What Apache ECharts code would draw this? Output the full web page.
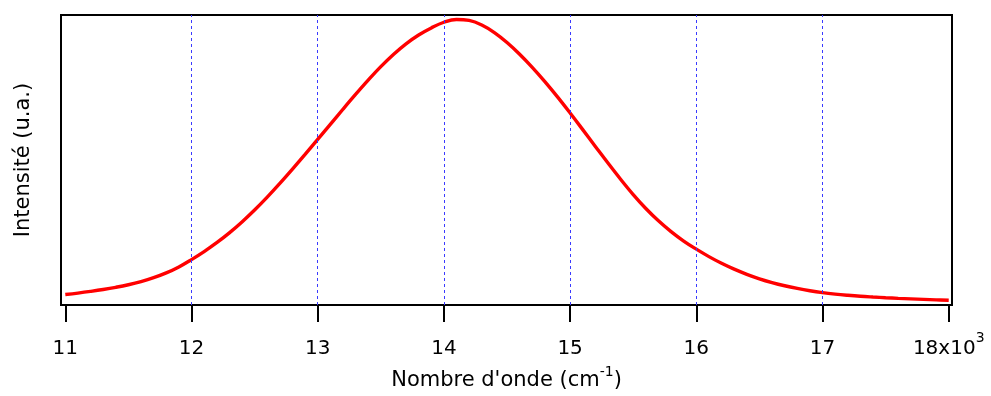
<!DOCTYPE html>
<html>
<head>
<meta charset="utf-8">
<title>Spectre d'émission</title>
<script src="https://cdn.jsdelivr.net/npm/echarts@6/dist/echarts.min.js"></script>
<style>
  html, body { margin: 0; padding: 0; background: #fff; }
  #chart { width: 991px; height: 396px; }
</style>
</head>
<body>
<div id="chart"></div>
<script>
// Wavenumber samples (cm-1) and measured band intensity (arbitrary units, 0-100 scale)
var wavenumbers = [
  11000, 11100, 11200, 11300, 11400, 11500, 11600, 11700, 11800, 11900,
  12000, 12100, 12200, 12300, 12400, 12500, 12600, 12700, 12800, 12900,
  13000, 13100, 13200, 13300, 13400, 13500, 13600, 13700, 13800, 13900,
  14000, 14100, 14200, 14300, 14400, 14500, 14600, 14700, 14800, 14900,
  15000, 15100, 15200, 15300, 15400, 15500, 15600, 15700, 15800, 15900,
  16000, 16100, 16200, 16300, 16400, 16500, 16600, 16700, 16800, 16900,
  17000, 17100, 17200, 17300, 17400, 17500, 17600, 17700, 17800, 17900,
  18000
];
var intensity = [
  3.60, 4.11, 4.69, 5.34, 6.10, 6.99, 8.08, 9.42, 11.06, 13.12,
  15.65, 18.42, 21.47, 24.86, 28.63, 32.74, 37.19, 41.92, 46.85, 51.92,
  57.09, 62.29, 67.50, 72.60, 77.53, 82.19, 86.40, 90.07, 93.12, 95.55,
  97.50, 98.46, 98.12, 96.54, 93.94, 90.51, 86.47, 81.95, 77.02, 71.75,
  66.20, 60.48, 54.69, 48.94, 43.36, 38.08, 33.29, 29.04, 25.31, 22.05,
  19.25, 16.68, 14.38, 12.36, 10.58, 9.04, 7.74, 6.64, 5.72, 4.93,
  4.28, 3.77, 3.36, 3.01, 2.74, 2.50, 2.29, 2.12, 1.95, 1.78,
  1.64
];

// Labelled ticks on the wavenumber axis and the dashed guide positions
var tickValues = [11000, 12000, 13000, 14000, 15000, 16000, 17000, 18000];
var guideValues = [12000, 13000, 14000, 15000, 16000, 17000];

var xTitleMain = "Nombre d'onde (cm";
var xTitleExp = '-1';
var yTitle = 'Intensité (u.a.)';

var FONT = '"DejaVu Sans", "Liberation Sans", sans-serif';

var points = wavenumbers.map(function (w, i) { return [w, intensity[i]]; });

var chart = echarts.init(document.getElementById('chart'), null, { renderer: 'canvas' });

chart.setOption({
  animation: false,
  backgroundColor: '#ffffff',
  grid: {
    left: 61, right: 39, top: 15, bottom: 89,
    show: true,
    borderColor: '#000000',
    borderWidth: 2,
    backgroundColor: 'transparent'
  },
  xAxis: {
    type: 'value',
    min: 10966,
    max: 18026,
    axisLine: { show: true, lineStyle: { color: '#000', width: 2 } },
    axisTick: {
      show: true,
      customValues: tickValues,
      length: 17,
      lineStyle: { color: '#000', width: 2 }
    },
    axisLabel: {
      customValues: tickValues,
      margin: 26,
      color: '#000',
      fontFamily: FONT,
      fontSize: 20,
      formatter: function (v) {
        if (v === 18000) return '{n|18x10}{sup|3}';
        return '{n|' + (v / 1000) + '}';
      },
      rich: {
        // base digits sit low in the line, exponent rides at the top
        n: { fontSize: 20, fontFamily: FONT, color: '#000', padding: [8, 0, 0, 0], verticalAlign: 'bottom' },
        sup: { fontSize: 14, fontFamily: FONT, color: '#000', padding: [0, 0, 14, 0], verticalAlign: 'top' }
      }
    },
    splitLine: { show: false },
    name: '{n|' + xTitleMain + '}{sup|' + xTitleExp + '}{n|)}',
    nameLocation: 'middle',
    nameGap: 60,
    nameTextStyle: {
      color: '#000',
      fontFamily: FONT,
      fontSize: 21,
      rich: {
        n: { fontSize: 21, fontFamily: FONT, color: '#000', padding: [5, 0, 0, 0], verticalAlign: 'bottom' },
        sup: { fontSize: 14, fontFamily: FONT, color: '#000', padding: [0, 0, 12, 0], verticalAlign: 'top' }
      }
    }
  },
  yAxis: {
    type: 'value',
    min: 0,
    max: 100,
    axisLine: { show: false },
    axisTick: { show: false },
    axisLabel: { show: false },
    splitLine: { show: false },
    name: yTitle,
    nameLocation: 'middle',
    nameGap: 27,
    nameTextStyle: { color: '#000', fontFamily: FONT, fontSize: 21 }
  },
  series: [
    {
      name: 'guides',
      type: 'line',
      data: [],
      z: 1,
      silent: true,
      markLine: {
        silent: true,
        symbol: 'none',
        label: { show: false },
        lineStyle: { color: '#3a3aff', width: 1, type: [3, 3] },
        data: guideValues.map(function (v) { return { xAxis: v }; })
      }
    },
    {
      name: 'Intensité',
      type: 'line',
      data: points,
      z: 3,
      smooth: 0.4,
      showSymbol: false,
      lineStyle: { color: '#ff0000', width: 3.4 }
    }
  ]
});
</script>
</body>
</html>
